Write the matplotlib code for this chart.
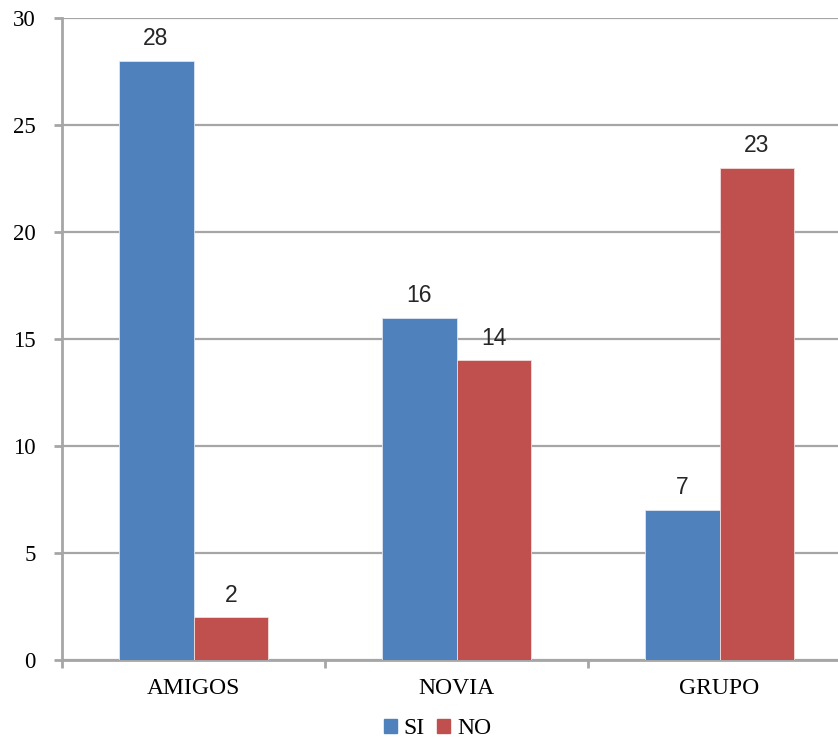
import numpy as np
import matplotlib.pyplot as plt
from matplotlib.patches import Patch

categories = ["AMIGOS", "NOVIA", "GRUPO"]
si = [28, 16, 7]
no = [2, 14, 23]

blue = "#4F81BD"
red = "#C0504D"
grey = "#A6A6A6"
serif = "Liberation Serif"

fig = plt.figure(figsize=(8.38, 7.42), dpi=100)
ax = fig.add_axes([62 / 838, 82 / 742, 789 / 838, 642 / 742])

x = np.arange(len(categories))
w = 0.285
b1 = ax.bar(x - w / 2, si, w, color=blue, edgecolor="#dce6f2", linewidth=0.6, zorder=3)
b2 = ax.bar(x + w / 2, no, w, color=red, edgecolor="#f2dcdb", linewidth=0.6, zorder=3)

for bars, vals in ((b1, si), (b2, no)):
    for r, v in zip(bars, vals):
        ax.text(r.get_x() + r.get_width() / 2, v + 0.5, str(v),
                ha="center", va="bottom", fontsize=16.5, family="Liberation Sans",
                color="#262626")

ax.set_xlim(-0.5, 2.5)
ax.set_ylim(0, 30)
ax.set_yticks(range(0, 31, 5))
ax.set_yticklabels([str(v) for v in range(0, 31, 5)], family=serif, fontsize=16.5)

# category ticks sit between the groups, labels sit under the groups
ax.set_xticks([-0.5, 0.5, 1.5, 2.5])
ax.set_xticklabels([])
ax.set_xticks(x, minor=True)
ax.set_xticklabels(categories, minor=True, family=serif, fontsize=17)
ax.tick_params(axis="x", which="minor", length=0, pad=13)
ax.tick_params(axis="x", which="major", length=6, width=2, color=grey)
ax.tick_params(axis="y", length=6, width=2, color=grey, pad=13)

ax.grid(axis="y", color=grey, linewidth=1.6, zorder=0)
for s in ("top", "right"):
    ax.spines[s].set_visible(False)
for s in ("left", "bottom"):
    ax.spines[s].set_color(grey)
    ax.spines[s].set_linewidth(2)

handles = [Patch(color=blue, label="SI"), Patch(color=red, label="NO")]
fig.legend(handles=handles, loc="center", bbox_to_anchor=(0.522, 0.018), ncol=2,
           frameon=False, prop={"family": serif, "size": 17},
           handlelength=0.55, handleheight=0.55, handletextpad=0.3, columnspacing=0.5)

fig.savefig("out.png", dpi=100)
